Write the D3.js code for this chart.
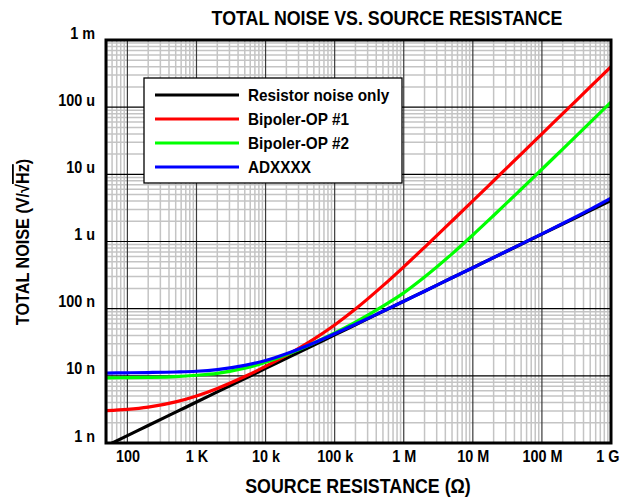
<!DOCTYPE html>
<html><head><meta charset="utf-8">
<script src="https://cdn.jsdelivr.net/npm/d3@7"></script>
<style>
body{margin:0;background:#fff}
svg text{font-family:"Liberation Sans","Arial",sans-serif;font-weight:bold;fill:#000}
</style></head><body>
<svg id="chart" width="622" height="497"></svg>
<script>
// Source resistance sample points (ohms)
const resistance = [50,100,200,500,1e3,2e3,5e3,1e4,2e4,5e4,1e5,2e5,5e5,1e6,2e6,5e6,1e7,2e7,5e7,1e8,2e8,5e8,1e9];
// Total noise density at each resistance (V/√Hz)
const resistorNoise = [0.91e-9,1.29e-9,1.82e-9,2.88e-9,4.07e-9,5.76e-9,9.10e-9,12.9e-9,18.2e-9,28.8e-9,40.7e-9,57.6e-9,91.0e-9,129e-9,182e-9,288e-9,407e-9,576e-9,910e-9,1.29e-6,1.82e-6,2.88e-6,4.07e-6];
const bipolerOp1 = [3.04e-9,3.17e-9,3.42e-9,4.09e-9,5.01e-9,6.49e-9,9.76e-9,13.8e-9,20.1e-9,35.2e-9,57.1e-9,98.6e-9,220e-9,420e-9,820e-9,2.02e-6,4.02e-6,8.02e-6,20.0e-6,40.0e-6,80.0e-6,200e-6,400e-6];
const bipolerOp2 = [9.34e-9,9.39e-9,9.48e-9,9.74e-9,10.2e-9,10.9e-9,13.0e-9,15.9e-9,20.6e-9,30.8e-9,43.4e-9,63.0e-9,109e-9,172e-9,296e-9,655e-9,1.25e-6,2.44e-6,6.0e-6,11.9e-6,23.8e-6,59.5e-6,119e-6];
const adxxxx = [11.0e-9,11.1e-9,11.2e-9,11.4e-9,11.7e-9,12.4e-9,14.3e-9,16.9e-9,21.3e-9,30.8e-9,42.2e-9,58.6e-9,91.7e-9,129e-9,182e-9,288e-9,407e-9,577e-9,914e-9,1.30e-6,1.85e-6,3.0e-6,4.41e-6];

const seriesNames = ["Resistor noise only","Bipoler-OP #1","Bipoler-OP #2","ADXXXX"];
const seriesColors = ["#000000","#ff0000","#00ff00","#0000ff"];
const seriesValues = [resistorNoise,bipolerOp1,bipolerOp2,adxxxx];

const xTickValues = [1e2,1e3,1e4,1e5,1e6,1e7,1e8,1e9];
const xTickLabels = ["100","1 K","10 k","100 k","1 M","10 M","100 M","1 G"];
const yTickValues = [1e-9,1e-8,1e-7,1e-6,1e-5,1e-4,1e-3];
const yTickLabels = ["1 n","10 n","100 n","1 u","10 u","100 u","1 m"];

const svg = d3.select("#chart");
const plot = {left:106, right:611, top:40, bottom:443};

// Narrow-face look: squeeze each label horizontally
function condense(sel, ratio) {
  sel.each(function() {
    const w = this.getComputedTextLength();
    d3.select(this).attr("textLength", w * ratio).attr("lengthAdjust", "spacingAndGlyphs");
  });
}

const x = d3.scaleLog().domain([49,1e9]).range([plot.left, plot.right]);
const y = d3.scaleLog().domain([1e-9,1e-3]).range([plot.bottom, plot.top]);

const isDecade = v => Math.abs(Math.log10(v) - Math.round(Math.log10(v))) < 1e-9;

// Minor grid
const grid = svg.append("g");
const xMinor = x.ticks().filter(v => !isDecade(v) && v > 49);
const yMinor = y.ticks().filter(v => !isDecade(v));
grid.selectAll(".xm").data(xMinor).join("line")
  .attr("x1", d => x(d)).attr("x2", d => x(d))
  .attr("y1", plot.top).attr("y2", plot.bottom)
  .attr("stroke", "#c4c4c4").attr("stroke-width", 1.5);
grid.selectAll(".ym").data(yMinor).join("line")
  .attr("y1", d => y(d)).attr("y2", d => y(d))
  .attr("x1", plot.left).attr("x2", plot.right)
  .attr("stroke", "#c4c4c4").attr("stroke-width", 1.5);
// Major grid
grid.selectAll(".xM").data(xTickValues).join("line")
  .attr("x1", d => x(d)).attr("x2", d => x(d))
  .attr("y1", plot.top).attr("y2", plot.bottom)
  .attr("stroke", "#3a3a3a").attr("stroke-width", 1.2);
grid.selectAll(".yM").data(yTickValues).join("line")
  .attr("y1", d => y(d)).attr("y2", d => y(d))
  .attr("x1", plot.left).attr("x2", plot.right)
  .attr("stroke", "#000").attr("stroke-width", 1.2);

// Curves
const line = d3.line()
  .x(d => x(d[0])).y(d => y(d[1]))
  .curve(d3.curveMonotoneX);
svg.append("clipPath").attr("id","plotclip").append("rect")
  .attr("x", plot.left).attr("y", plot.top)
  .attr("width", plot.right - plot.left).attr("height", plot.bottom - plot.top);
const curves = svg.append("g").attr("clip-path","url(#plotclip)");
seriesValues.forEach((vals, i) => {
  curves.append("path")
    .datum(resistance.map((r, j) => [r, vals[j]]))
    .attr("d", line)
    .attr("fill", "none")
    .attr("stroke", seriesColors[i])
    .attr("stroke-width", 3.2)
    .attr("stroke-linejoin","round");
});

// Frame
svg.append("rect")
  .attr("x", plot.left).attr("y", plot.top)
  .attr("width", plot.right - plot.left).attr("height", plot.bottom - plot.top)
  .attr("fill", "none").attr("stroke", "#000").attr("stroke-width", 3);

// Axes (labels only)
const xAxis = d3.axisBottom(x).tickValues(xTickValues)
  .tickFormat((d, i) => xTickLabels[i]).tickSize(0).tickPadding(8);
const gx = svg.append("g").attr("transform", `translate(0,${plot.bottom})`).call(xAxis);
gx.select(".domain").remove();
gx.selectAll("text").style("font-size","16px").attr("fill","#000").call(condense, 0.9);
// keep the last label inside the page edge
gx.selectAll("text").filter((d, i, n) => i === n.length - 1)
  .attr("text-anchor", "end").attr("dx", "8");

const yAxis = d3.axisLeft(y).tickValues(yTickValues)
  .tickFormat((d, i) => yTickLabels[i]).tickSize(0).tickPadding(11);
const gy = svg.append("g").attr("transform", `translate(${plot.left},0)`).call(yAxis);
gy.select(".domain").remove();
gy.selectAll("text").style("font-size","16px").attr("fill","#000").attr("dy","-0.12em").call(condense, 0.9);

// Titles
svg.append("text").attr("x", 387).attr("y", 25).attr("text-anchor","middle")
  .style("font-size","20px").text("TOTAL NOISE VS. SOURCE RESISTANCE").call(condense, 0.89);
svg.append("text").attr("x", 358).attr("y", 493).attr("text-anchor","middle")
  .style("font-size","20px").text("SOURCE RESISTANCE (Ω)").call(condense, 0.89);
const yt = svg.append("text").attr("transform","translate(29,242) rotate(-90)")
  .attr("text-anchor","middle").style("font-size","18px");
yt.append("tspan").text("TOTAL NOISE (V/√");
yt.append("tspan").style("text-decoration","overline").text("Hz");
yt.append("tspan").text(")");
yt.call(condense, 0.9);

// Legend
const lg = svg.append("g");
lg.append("rect").attr("x",144).attr("y",78).attr("width",258).attr("height",105)
  .attr("fill","#fff").attr("stroke","#000").attr("stroke-width",1.3);
seriesNames.forEach((name, i) => {
  const yy = 95 + i * 24;
  lg.append("line").attr("x1",155).attr("x2",239).attr("y1",yy).attr("y2",yy)
    .attr("stroke", seriesColors[i]).attr("stroke-width",3);
  lg.append("text").attr("x",248).attr("y",yy + 6).style("font-size","17px").text(name)
    .call(condense, 0.9);
});
</script>
</body></html>
